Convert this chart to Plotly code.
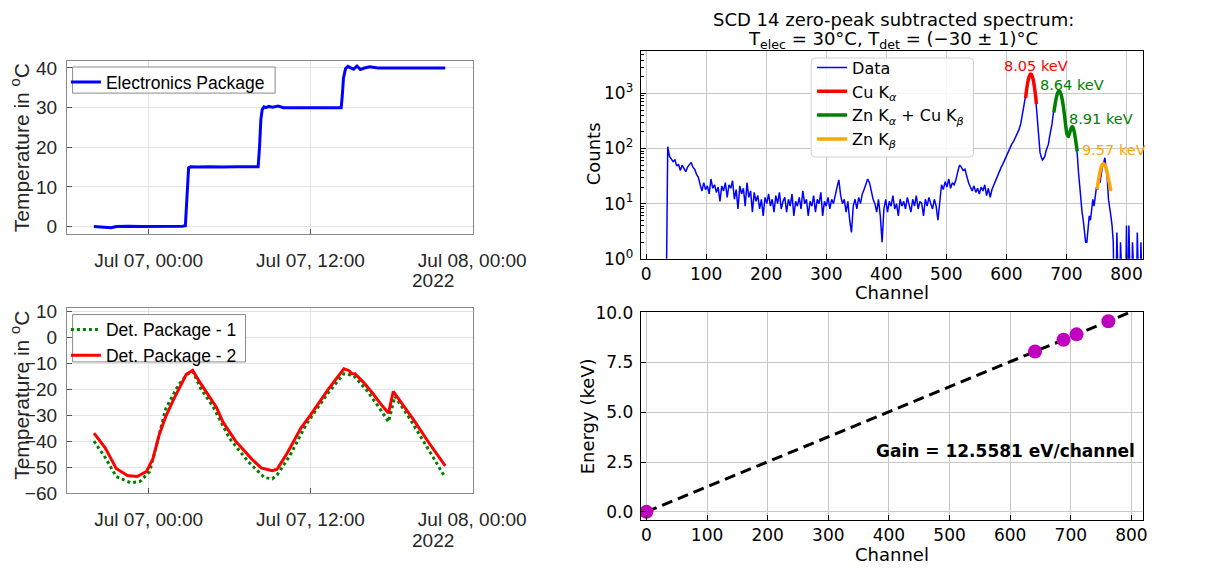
import numpy as np
import pandas as pd
import plotly.graph_objects as go

# ---------------- Left panels: temperatures (hours from 2022-07-07 00:00) ----------------
elec_hours = [-4.07, -3.6, -3.2, -2.8, -2.4, -1.5, -0.5, 0.5, 1.5, 2.5,
              2.72, 2.8, 2.88, 2.96, 3.1, 3.6, 4.5, 5.5, 6.5, 7.5,
              8.12, 8.22, 8.32, 8.42, 8.55, 8.7, 8.9, 9.2, 9.6, 10.0,
              11.0, 12.0, 13.0, 14.28, 14.36, 14.45, 14.6, 14.78, 14.95, 15.2,
              15.45, 15.7, 16.0, 16.4, 17.0, 18.0, 19.0, 20.0, 21.0, 22.0]
elec_temp = [0.0, -0.1, -0.2, -0.3, 0.0, 0.1, 0.0, 0.0, 0.0, 0.1,
             0.2, 5.0, 12.0, 14.8, 15.1, 15.0, 15.1, 15.0, 15.1, 15.0,
             15.1, 20.0, 27.0, 29.5, 30.2, 30.0, 30.3, 30.1, 30.4, 30.0,
             30.0, 30.0, 30.0, 30.0, 33.0, 37.5, 39.8, 40.4, 40.1, 39.7,
             40.5, 39.6, 40.0, 40.3, 40.0, 40.0, 40.1, 40.0, 40.1, 40.0]

det1_hours = [-4.06, -3.24, -2.41, -1.35, -0.64, 0.07, 0.54, 1.25, 2.2, 2.9,
              3.26, 3.85, 4.8, 5.98, 7.4, 8.58, 9.17, 9.52, 10.47, 11.65,
              13.3, 14.48, 15.2, 16.14, 17.08, 17.79, 18.26, 19.2, 20.38, 22.0]
det1_temp = [-40.0, -46.2, -53.6, -56.0, -55.5, -51.7, -42.5, -27.7, -18.4, -14.1,
             -13.1, -19.7, -27.0, -38.8, -48.0, -54.0, -54.5, -53.0, -45.6, -33.8,
             -21.5, -14.1, -14.7, -20.2, -27.0, -32.6, -22.7, -30.0, -40.0, -54.0]

det2_hours = [-4.06, -3.24, -2.41, -1.58, -0.87, -0.17, 0.31, 0.78, 1.25, 1.84,
              2.79, 3.26, 3.85, 4.32, 5.03, 5.5, 6.45, 7.63, 8.34, 9.17,
              9.52, 10.23, 11.29, 12.0, 13.3, 14.48, 14.84, 15.07, 15.3, 15.9,
              16.6, 17.32, 17.79, 18.14, 18.74, 19.68, 20.86, 22.0]
det2_temp = [-36.9, -42.5, -50.5, -53.2, -53.6, -51.7, -46.8, -37.5, -30.7, -24.0,
             -14.3, -12.8, -17.8, -21.5, -27.0, -32.6, -40.0, -46.8, -50.3, -51.4,
             -50.8, -45.0, -35.0, -30.0, -20.2, -12.2, -12.8, -14.1, -14.1, -17.2,
             -21.5, -26.4, -29.2, -20.9, -25.2, -32.0, -41.2, -49.5]

base_time = pd.Timestamp("2022-07-07 00:00")
def to_time(hours):
    return base_time + pd.to_timedelta(np.asarray(hours, float), unit="h")

time_ticks = ["2022-07-07 00:00", "2022-07-07 12:00", "2022-07-08 00:00"]
time_tick_text = ["Jul 07, 00:00", "Jul 07, 12:00", "Jul 08, 00:00"]
time_range = [str(to_time([-6.07])[0]), str(to_time([24.05])[0])]

# ---------------- Top right: spectrum ----------------
counts_a_start, counts_a_step = 33, 3
counts_a = [0,
            108, 72, 66, 58,
            62, 48, 52, 40, 50, 44, 38, 46, 50, 56, 46, 42, 34, 30, 22,
            17, 24, 18, 21, 15, 28, 19, 22, 16, 20, 11, 21, 17, 24, 13,
            22, 19, 26, 12, 18, 8, 21, 15, 19, 9, 24, 13, 17, 7, 16,
            11, 14, 8, 12, 6, 13, 10, 15, 9, 12, 7, 14, 10, 16, 8,
            11, 13, 7, 12, 9, 15, 6, 11, 9, 13, 8, 17, 10, 12, 6,
            11, 9, 14, 7, 12, 10, 16, 6, 11, 9,
            13, 8, 12, 10, 15, 20, 27, 14, 10, 12, 7, 11, 5, 3, 9, 12,
            8, 13, 10, 15, 18, 22, 28, 24, 16, 12, 10, 7, 12, 6,
            2, 8, 12, 7, 11, 9, 14, 8, 10, 6, 12, 9, 11, 8, 13, 10, 7,
            12, 9, 14, 8, 11, 10, 6, 12, 9, 13, 10, 8, 12, 9, 5, 11,
            22, 18, 25, 20, 28, 19, 24, 22, 27, 38, 50, 46, 40, 42, 30, 24, 20,
            17, 21, 16, 19, 15, 20, 17, 22, 14, 19, 13, 18, 22, 26, 32,
            38, 45, 52, 62, 75, 88, 100, 120, 135, 160, 185, 220, 285, 420]
counts_b_start, counts_b_step = 630, 2
counts_b = [620, 900, 1250, 1700, 2050, 2250, 2150, 1850, 1350, 900,
            560, 260, 130, 85, 70, 62, 66, 72, 90, 105,
            120, 165, 210, 280, 420, 580, 760, 940, 1080, 1110,
            1020, 850, 620, 430, 290, 200, 165, 180, 210, 240,
            255, 225, 170, 115, 80, 38, 20, 12, 7, 5,
            3, 2, 2, 4, 6, 5, 8, 12, 9, 15,
            20, 18, 28, 24, 35, 48, 55, 68, 45, 28,
            12, 9, 6, 4, 2, 0, 0, 3, 0, 0,
            2, 0, 0, 0, 0, 4, 0, 4, 0, 0,
            2, 0, 0, 0, 3, 0, 0, 2, 0, 0]

cu_ka_ch = [632, 634, 636, 638, 640, 641, 642, 644, 646, 648, 650]
cu_ka_fit = [820, 1240, 1680, 2040, 2230, 2240, 2200, 1900, 1470, 1030, 640]
zn_ka_ch = [679, 681, 683, 685, 687, 688, 689, 691, 693, 695, 697, 699, 701, 703,
            705, 707, 709, 710, 711, 713, 715, 717, 718]
zn_ka_fit = [450, 620, 820, 1000, 1090, 1100, 1080, 960, 770, 560, 380, 250, 180, 165,
             185, 220, 245, 248, 240, 200, 150, 105, 88]
zn_kb_ch = [751, 753, 755, 757, 759, 761, 762, 764, 766, 768, 770, 772, 774]
zn_kb_fit = [18, 25, 33, 42, 50, 53, 53, 50, 44, 36, 28, 22, 17]

peak_labels = ["8.05 keV", "8.64 keV", "8.91 keV", "9.57 keV"]
peak_label_ch = [649, 710, 758, 779]
peak_label_counts = [3100, 1450, 350, 94]
peak_label_colors = ["red", "green", "green", "orange"]

# ---------------- Bottom right: calibration ----------------
calib_channel = [0, 641, 688, 709.5, 762]
calib_energy = [0.0, 8.05, 8.64, 8.91, 9.57]
fit_channel = [0, 800]
fit_energy = [0.0, 10.0465]
gain_text = "Gain = 12.5581 eV/channel"

# ---------------- Build figure ----------------
W, H = 1210, 574
def px_x(p):
    return p / W
def px_y(p):
    return 1 - p / H

LEFT_FONT = "Liberation Sans, Arial, sans-serif"
RIGHT_FONT = "DejaVu Sans, sans-serif"

fig = go.Figure()

fig.add_trace(go.Scatter(x=to_time(elec_hours), y=elec_temp, mode="lines",
                         line=dict(color="#0000ff", width=3), name="Electronics Package",
                         xaxis="x", yaxis="y", legend="legend"))
fig.add_trace(go.Scatter(x=to_time(det1_hours), y=det1_temp, mode="lines",
                         line=dict(color="#008000", width=3, dash="dot"), name="Det. Package - 1",
                         xaxis="x2", yaxis="y2", legend="legend2"))
fig.add_trace(go.Scatter(x=to_time(det2_hours), y=det2_temp, mode="lines",
                         line=dict(color="#ff0000", width=3), name="Det. Package - 2",
                         xaxis="x2", yaxis="y2", legend="legend2"))

ch_all = np.concatenate([counts_a_start + counts_a_step * np.arange(len(counts_a)),
                         counts_b_start + counts_b_step * np.arange(len(counts_b))])
cnt_all = np.array(counts_a + counts_b, dtype=float)
cnt_plot = np.where(cnt_all > 0, cnt_all, 0.05)   # zero counts drop below the log axis

fig.add_trace(go.Scatter(x=ch_all, y=cnt_plot, mode="lines", line=dict(color="#0000ff", width=1.5),
                         name="Data", xaxis="x3", yaxis="y3", legend="legend3"))
fig.add_trace(go.Scatter(x=cu_ka_ch, y=cu_ka_fit, mode="lines", line=dict(color="red", width=3.5, shape="spline"),
                         name="Cu K<sub><i>α</i></sub>", xaxis="x3", yaxis="y3", legend="legend3"))
fig.add_trace(go.Scatter(x=zn_ka_ch, y=zn_ka_fit, mode="lines", line=dict(color="green", width=3.5, shape="spline"),
                         name="Zn K<sub><i>α</i></sub> + Cu K<sub><i>β</i></sub>", xaxis="x3", yaxis="y3", legend="legend3"))
fig.add_trace(go.Scatter(x=zn_kb_ch, y=zn_kb_fit, mode="lines", line=dict(color="orange", width=3.5, shape="spline"),
                         name="Zn K<sub><i>β</i></sub>", xaxis="x3", yaxis="y3", legend="legend3"))

fig.add_trace(go.Scatter(x=fit_channel, y=fit_energy, mode="lines",
                         line=dict(color="black", width=3, dash="11px,6px"),
                         showlegend=False, xaxis="x4", yaxis="y4"))
fig.add_trace(go.Scatter(x=calib_channel, y=calib_energy, mode="markers",
                         marker=dict(color="#bf00bf", size=14), showlegend=False, xaxis="x4", yaxis="y4"))

left_axis = dict(showline=True, linecolor="#8a8a8a", linewidth=1, mirror=True,
                 showgrid=True, gridcolor="#e3e3e3", gridwidth=1, zeroline=False,
                 ticks="inside", ticklen=5, tickcolor="#555", tickwidth=1,
                 tickfont=dict(family=LEFT_FONT, size=19, color="#262626"))
right_axis = dict(showline=True, linecolor="black", linewidth=1.2, mirror=True,
                  showgrid=True, gridcolor="#c8c8c8", gridwidth=1, zeroline=False,
                  ticks="inside", ticklen=5, tickcolor="black", tickwidth=1,
                  tickfont=dict(family=RIGHT_FONT, size=17, color="black"))

dom_left_x = [px_x(70), px_x(495)]
dom_right_x = [px_x(670.7), px_x(1196.7)]

minor_log_vals = [m * 10 ** k for k in range(0, 4) for m in range(2, 10)]

fig.update_layout(
    width=W, height=H, margin=dict(l=0, r=0, t=0, b=0),
    paper_bgcolor="white", plot_bgcolor="white", showlegend=True,
    xaxis=dict(left_axis, domain=dom_left_x, anchor="y", type="date", range=time_range,
               tickvals=time_ticks, ticktext=time_tick_text, ticklabelstandoff=9),
    yaxis=dict(left_axis, domain=[px_y(232.7), px_y(53.3)], anchor="x", range=[-1.88, 41.88],
               tickvals=[0, 10, 20, 30, 40], ticklabelstandoff=5),
    xaxis2=dict(left_axis, domain=dom_left_x, anchor="y2", type="date", range=time_range,
                tickvals=time_ticks, ticktext=time_tick_text, ticklabelstandoff=9),
    yaxis2=dict(left_axis, domain=[px_y(501), px_y(309)], anchor="x2", range=[-60.1, 11.3],
                tickvals=[10, 0, -10, -20, -30, -40, -50, -60], ticklabelstandoff=5),
    xaxis3=dict(right_axis, domain=dom_right_x, anchor="y3", range=[-8.9, 828.0],
                tickvals=list(range(0, 900, 100)), ticklabelstandoff=0),
    yaxis3=dict(right_axis, domain=[px_y(258.3), px_y(43.3)], anchor="x3", type="log",
                range=[0, 3.772], tickvals=[1, 10, 100, 1000],
                ticktext=["10<sup>0</sup>", "10<sup>1</sup>", "10<sup>2</sup>", "10<sup>3</sup>"],
                minor=dict(tickmode="array", tickvals=minor_log_vals, ticks="inside", ticklen=3,
                           tickcolor="black", tickwidth=1, showgrid=False),
                ticklabelstandoff=3),
    xaxis4=dict(right_axis, domain=dom_right_x, anchor="y4", range=[-9.3, 819.6],
                tickvals=list(range(0, 900, 100)), ticklabelstandoff=0),
    yaxis4=dict(right_axis, domain=[px_y(528.3), px_y(313)], anchor="x4", range=[-0.40, 10.05],
                tickvals=[0, 2.5, 5, 7.5, 10], ticktext=["0.0", "2.5", "5.0", "7.5", "10.0"],
                ticklabelstandoff=3),
    legend=dict(x=px_x(69), y=px_y(57), xanchor="left", yanchor="top",
                bgcolor="rgba(0,0,0,0)", borderwidth=0,
                font=dict(family=LEFT_FONT, size=17.5, color="black"), itemwidth=30),
    legend2=dict(x=px_x(69), y=px_y(313), xanchor="left", yanchor="top",
                 bgcolor="rgba(0,0,0,0)", borderwidth=0,
                 font=dict(family=LEFT_FONT, size=17.5, color="black"), itemwidth=30,
                 tracegroupgap=0),
    legend3=dict(x=px_x(850), y=px_y(43), xanchor="left", yanchor="top",
                 bgcolor="rgba(0,0,0,0)", borderwidth=0,
                 font=dict(family=RIGHT_FONT, size=16, color="black"), itemwidth=30),
)

# legend frames drawn as shapes (white boxes under the legend entries)
def rect_px(x0, y0, x1, y1, line_color, radius=0):
    if radius == 0:
        return dict(type="rect", xref="paper", yref="paper", x0=px_x(x0), x1=px_x(x1),
                    y0=px_y(y1), y1=px_y(y0), fillcolor="white",
                    line=dict(color=line_color, width=1), layer="above")
    r = radius
    pts = [("M", x0 + r, y0), ("L", x1 - r, y0), ("Q", x1, y0, x1, y0 + r), ("L", x1, y1 - r),
           ("Q", x1, y1, x1 - r, y1), ("L", x0 + r, y1), ("Q", x0, y1, x0, y1 - r),
           ("L", x0, y0 + r), ("Q", x0, y0, x0 + r, y0)]
    path = ""
    for p in pts:
        cmd = p[0]
        coords = p[1:]
        vals = []
        for i in range(0, len(coords), 2):
            vals.append("%.5f,%.5f" % (px_x(coords[i]), px_y(coords[i + 1])))
        path += cmd + " " + " ".join(vals) + " "
    path += "Z"
    return dict(type="path", xref="paper", yref="paper", path=path, fillcolor="rgba(255,255,255,0.85)",
                line=dict(color=line_color, width=1), layer="above")

shapes = [rect_px(76, 60, 288, 87, "#8a8a8a"),
          rect_px(76, 316, 257, 365, "#8a8a8a"),
          rect_px(849, 50.7, 1019, 153, "#d0d0d0", radius=4)]

ann = []
def add_text(text, x, y, size, family, angle=0, color="black", xanchor="center", yanchor="middle"):
    ann.append(dict(text=text, x=x, y=y, xref="paper", yref="paper",
                    showarrow=False, textangle=angle, xanchor=xanchor, yanchor=yanchor,
                    font=dict(family=family, size=size, color=color)))

add_text("Temperature in <sup>o</sup>C", px_x(21), px_y(144), 21, LEFT_FONT, angle=-90, color="#262626")
add_text("Temperature in <sup>o</sup>C", px_x(21), px_y(400), 21, LEFT_FONT, angle=-90, color="#262626")
add_text("2022", px_x(453), px_y(281), 19, LEFT_FONT, color="#262626")
add_text("2022", px_x(453), px_y(550), 19, LEFT_FONT, color="#262626")

add_text("SCD 14 zero-peak subtracted spectrum:", px_x(935), px_y(11), 18, RIGHT_FONT)
add_text("T<sub>elec</sub> = 30°C, T<sub>det</sub> = (−30 ± 1)°C", px_x(935), px_y(32), 18, RIGHT_FONT)
add_text("Counts", px_x(621), px_y(150), 18, RIGHT_FONT, angle=-90)
add_text("Channel", px_x(933.7), px_y(293), 18, RIGHT_FONT)
add_text("Channel", px_x(933.7), px_y(564), 18, RIGHT_FONT)
add_text("Energy (keV)", px_x(614.7), px_y(421), 18, RIGHT_FONT, angle=-90)

for lab, cx, cy, col in zip(peak_labels, peak_label_ch, peak_label_counts, peak_label_colors):
    ann.append(dict(text=lab, x=cx, y=np.log10(cy), xref="x3", yref="y3", showarrow=False,
                    xanchor="center", yanchor="middle",
                    font=dict(family=RIGHT_FONT, size=14.5, color=col)))

ann.append(dict(text="<b>%s</b>" % gain_text, x=810, y=3.04, xref="x4", yref="y4", showarrow=False,
                xanchor="right", yanchor="middle", font=dict(family=RIGHT_FONT, size=17, color="black")))

fig.update_layout(annotations=ann, shapes=shapes)
fig.write_html("out.html")
